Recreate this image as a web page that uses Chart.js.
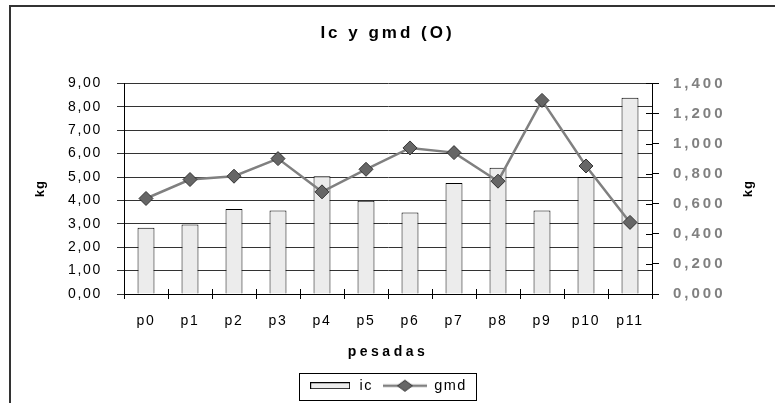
<!DOCTYPE html>
<html><head><meta charset="utf-8">
<script src="https://cdn.jsdelivr.net/npm/chart.js@4.4.1/dist/chart.umd.min.js"></script>
<style>html,body{margin:0;padding:0;background:#fff;}#wrap{width:775px;height:403px;position:relative}</style>
</head><body><div id="wrap"><canvas id="c" width="775" height="403"></canvas></div>
<script>
// ---- data ----
const categories = ['p0','p1','p2','p3','p4','p5','p6','p7','p8','p9','p10','p11'];
const icValues  = [2.83, 2.97, 3.63, 3.57, 5.03, 3.98, 3.48, 4.74, 5.39, 3.57, 5.00, 8.39];
const gmdValues = [0.635, 0.761, 0.783, 0.900, 0.679, 0.829, 0.971, 0.940, 0.750, 1.287, 0.851, 0.476];
const leftTickRange  = [0, 9, 1];      // min, max, step
const rightTickRange = [0, 1.4, 0.2];  // min, max, step
const titleText = 'Ic y gmd (O)';
const xTitleText = 'pesadas';
const yTitleText = 'kg';
const y1TitleText = 'kg';
const seriesNames = ['ic', 'gmd'];

const FAMILY = "'Liberation Sans', Arial, sans-serif";

// letter spacing per font (the original uses widely spaced text)
const SPACING = { 'b17': '3px', 'n14': '1.7px', 'b15': '3px', 'b13': '1px', 'b14': '3.5px', 'n14.5': '1.5px' };
(function(){
  const P = CanvasRenderingContext2D.prototype;
  const d = Object.getOwnPropertyDescriptor(P, 'font');
  Object.defineProperty(P, 'font', {
    configurable: true,
    get(){ return d.get.call(this); },
    set(v){
      d.set.call(this, v);
      const m = /(bold\s+)?([\d.]+)px/.exec(v);
      let sp = '0px';
      if (m) { const k = (m[1] ? 'b' : 'n') + m[2]; if (SPACING[k]) sp = SPACING[k]; }
      if ('letterSpacing' in this) this.letterSpacing = sp;
    }
  });
})();

// legend swatches
function makeIcSwatch(){
  const c = document.createElement('canvas'); c.width = 40; c.height = 7;
  const g = c.getContext('2d');
  g.fillStyle = '#ececec'; g.fillRect(0.5,0.5,39,6);
  g.strokeStyle = '#000'; g.lineWidth = 1; g.strokeRect(0.5,0.5,39,6);
  return c;
}
function makeGmdSwatch(){
  const c = document.createElement('canvas'); c.width = 44; c.height = 14;
  const g = c.getContext('2d');
  g.strokeStyle = '#808080'; g.lineWidth = 2.5;
  g.beginPath(); g.moveTo(0,7); g.lineTo(44,7); g.stroke();
  g.beginPath(); g.moveTo(22-7.5,7); g.lineTo(22,7-5.5); g.lineTo(22+7.5,7); g.lineTo(22,7+5.5); g.closePath();
  g.fillStyle = '#666'; g.fill(); g.strokeStyle = '#333'; g.lineWidth = 1; g.stroke();
  return c;
}
const icSwatch = makeIcSwatch();
const gmdSwatch = makeGmdSwatch();

const decor = {
  id: 'decor',
  afterDraw(chart){
    const ctx = chart.ctx, ca = chart.chartArea;
    const xs = chart.scales.x, y1 = chart.scales.y1;
    ctx.save();
    ctx.strokeStyle = '#000'; ctx.lineWidth = 1;
    ctx.beginPath();
    // inner part of category ticks
    const n = categories.length;
    for (let i = 0; i <= n; i++) {
      let px;
      if (i === 0) px = ca.left; else if (i === n) px = ca.right;
      else px = (xs.getPixelForValue(i-1) + xs.getPixelForValue(i)) / 2;
      px = Math.round(px) + 0.5;
      ctx.moveTo(px, ca.bottom - 5); ctx.lineTo(px, ca.bottom);
    }
    // inner part of right-axis ticks
    y1.ticks.forEach(t => {
      const py = Math.round(y1.getPixelForValue(t.value)) + 0.5;
      ctx.moveTo(ca.right - 6, py); ctx.lineTo(ca.right, py);
    });
    ctx.stroke();
    // right axis title, reading bottom to top
    ctx.fillStyle = '#000';
    ctx.font = 'bold 13px ' + FAMILY;
    ctx.textAlign = 'center'; ctx.textBaseline = 'middle';
    ctx.translate(748, (ca.top + ca.bottom) / 2);
    ctx.rotate(-Math.PI / 2);
    ctx.fillText(y1TitleText, 0, 0);
    ctx.setTransform(1,0,0,1,0,0);
    // legend frame
    const hb = chart.legend.legendHitBoxes;
    if (hb && hb.length) {
      let l = Infinity, r = -Infinity, t = Infinity, b = -Infinity;
      hb.forEach(h => { l = Math.min(l, h.left); r = Math.max(r, h.left + h.width); t = Math.min(t, h.top); b = Math.max(b, h.top + h.height); });
      ctx.strokeStyle = '#000'; ctx.lineWidth = 1;
      ctx.strokeRect(Math.round(l - 9) + 0.5, Math.round(t - 6) + 0.5, Math.round(r - l + 18), Math.round(b - t + 12));
    }
    // outer frame (top and left edges visible)
    ctx.strokeStyle = '#333'; ctx.lineWidth = 2;
    ctx.beginPath();
    ctx.moveTo(9, 6); ctx.lineTo(775, 6);
    ctx.moveTo(10, 5); ctx.lineTo(10, 403);
    ctx.stroke();
    ctx.restore();
  }
};

new Chart(document.getElementById('c'), {
  data: {
    labels: categories,
    datasets: [
      {
        type: 'line', label: seriesNames[1], data: gmdValues, yAxisID: 'y1',
        borderColor: '#808080', borderWidth: 2.5, tension: 0,
        pointStyle: 'rectRot', pointRadius: 7, pointBackgroundColor: '#666',
        pointBorderColor: '#333', pointBorderWidth: 1, order: 0
      },
      {
        type: 'bar', label: seriesNames[0], data: icValues, yAxisID: 'y',
        backgroundColor: '#ececec', borderColor: '#000', borderWidth: 1,
        barPercentage: 0.385, categoryPercentage: 1, order: 1
      }
    ]
  },
  options: {
    responsive: false, animation: false, devicePixelRatio: 1,
    layout: { padding: { top: 0, left: 0, right: 0, bottom: 0 } },
    plugins: {
      title: {
        display: true, text: titleText, color: '#000',
        font: { family: FAMILY, size: 17, weight: 'bold' },
        padding: { top: 23, bottom: 40 }
      },
      legend: {
        position: 'bottom',
        labels: {
          usePointStyle: true, pointStyleWidth: 44, boxHeight: 14.5, padding: 10,
          color: '#000', font: { family: FAMILY, size: 14.5 },
          generateLabels(){
            return [
              { text: seriesNames[0], pointStyle: icSwatch, datasetIndex: 1, fontColor: '#000', hidden: false, lineWidth: 0, strokeStyle: 'rgba(0,0,0,0)', fillStyle: 'rgba(0,0,0,0)' },
              { text: seriesNames[1], pointStyle: gmdSwatch, datasetIndex: 0, fontColor: '#000', hidden: false, lineWidth: 0, strokeStyle: 'rgba(0,0,0,0)', fillStyle: 'rgba(0,0,0,0)' }
            ];
          }
        }
      },
      tooltip: { enabled: false }
    },
    scales: {
      x: {
        type: 'category', position: 'bottom',
        grid: { offset: true, drawOnChartArea: false, drawTicks: true, tickLength: 5, color: '#000' },
        border: { color: '#000', width: 1 },
        ticks: { color: '#000', font: { family: FAMILY, size: 14 }, padding: 14, maxRotation: 0, autoSkip: false },
        title: { display: true, text: xTitleText, color: '#000', font: { family: FAMILY, size: 14, weight: 'bold' }, padding: { top: 13, bottom: 8 } },
        afterFit(s){ s.height = 74.5; }
      },
      y: {
        type: 'linear', position: 'left',
        min: leftTickRange[0], max: leftTickRange[1],
        grid: { color: '#333', lineWidth: 1, tickLength: 7, drawTicks: true },
        border: { color: '#000', width: 1 },
        ticks: { stepSize: leftTickRange[2], color: '#000', font: { family: FAMILY, size: 14 }, padding: 15,
                 callback: v => Number(v).toFixed(2).replace('.', ',') },
        title: { display: true, text: yTitleText, color: '#000', font: { family: FAMILY, size: 13, weight: 'bold' }, padding: { top: 33, bottom: 0 } },
        afterFit(s){ s.width = 124; }
      },
      y1: {
        type: 'linear', position: 'right',
        min: rightTickRange[0], max: rightTickRange[1],
        grid: { drawOnChartArea: false, tickLength: 7, color: '#000' },
        border: { color: '#000', width: 1 },
        ticks: { stepSize: rightTickRange[2], color: '#808080', font: { family: FAMILY, size: 15, weight: 'bold' }, padding: 14,
                 callback: v => Number(v).toFixed(3).replace('.', ',') },
        afterFit(s){ s.width = 123; }
      }
    }
  },
  plugins: [decor]
});
</script></body></html>
